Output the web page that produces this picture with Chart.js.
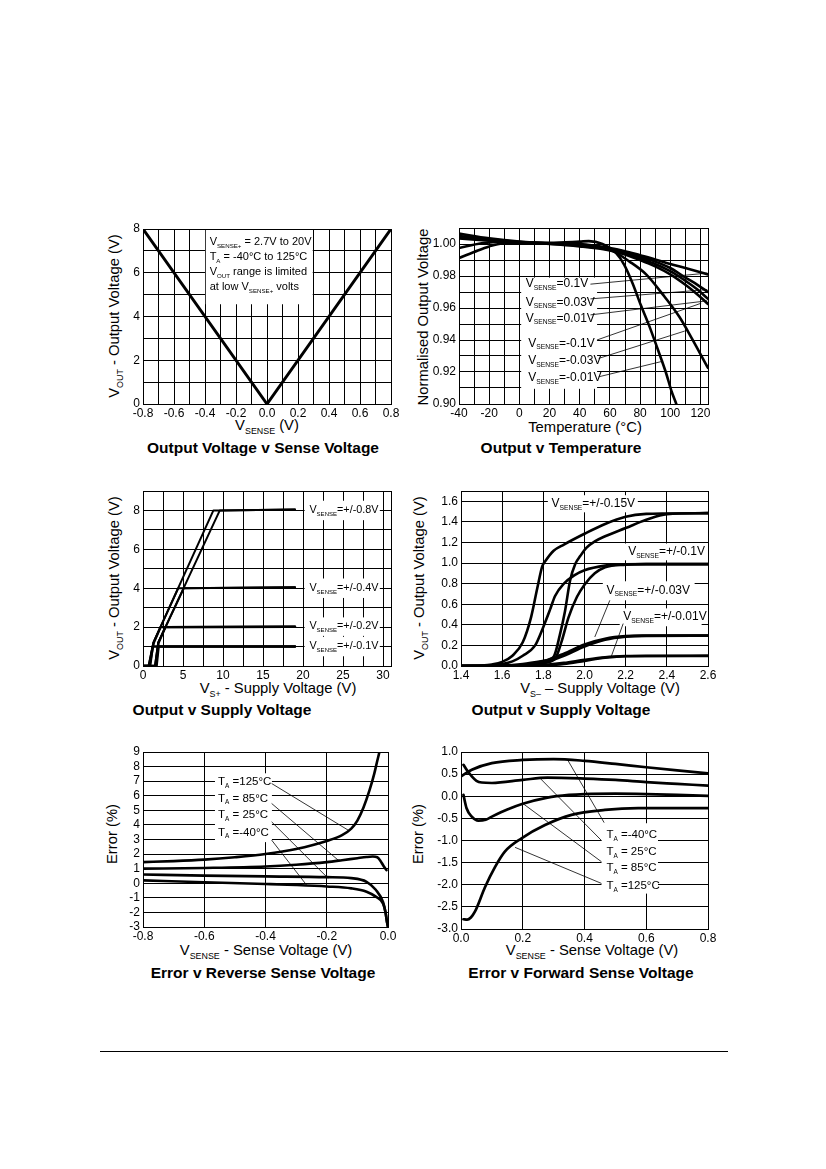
<!DOCTYPE html>
<html><head><meta charset="utf-8">
<script src="https://cdn.jsdelivr.net/npm/chart.js@4.4.1/dist/chart.umd.min.js"></script>
<style>
html,body{margin:0;padding:0;background:#fff;}
body{width:826px;height:1169px;position:relative;overflow:hidden;font-family:"Liberation Sans",Arial,Helvetica,sans-serif;color:#000;}
canvas{position:absolute;}
.t{position:absolute;white-space:nowrap;transform:translate(-50%,-50%);line-height:1;}
.ax{font-size:14.8px;}
.ttl{font-size:15.5px;font-weight:bold;}
.rot{transform:translate(-50%,-50%) rotate(-90deg);}
.s{font-size:0.6em;position:relative;top:0.42em;}
.foot{position:absolute;left:100px;top:1051px;width:628px;height:1px;background:#000;}
</style></head><body>

<div class="t ax rot" style="left:114px;top:316px">V<span class="s">OUT</span> - Output Voltage (V)</div>
<div class="t ax" style="left:267px;top:425px">V<span class="s">SENSE</span> (V)</div>
<div class="t ttl" style="left:263px;top:448px">Output Voltage v Sense Voltage</div>

<div class="t ax rot" style="left:423px;top:317px">Normalised Output Voltage</div>
<div class="t ax" style="left:585px;top:427px">Temperature (°C)</div>
<div class="t ttl" style="left:561px;top:448px">Output v Temperature</div>

<div class="t ax rot" style="left:114px;top:578px">V<span class="s">OUT</span> - Output Voltage (V)</div>
<div class="t ax" style="left:278px;top:688px">V<span class="s">S+</span> - Supply Voltage (V)</div>
<div class="t ttl" style="left:222px;top:710px">Output v Supply Voltage</div>

<div class="t ax rot" style="left:419px;top:578px">V<span class="s">OUT</span> - Output Voltage (V)</div>
<div class="t ax" style="left:600px;top:688px">V<span class="s">S–</span> – Supply Voltage (V)</div>
<div class="t ttl" style="left:561px;top:710px">Output v Supply Voltage</div>

<div class="t ax rot" style="left:112px;top:834px">Error (%)</div>
<div class="t ax" style="left:266px;top:950px">V<span class="s">SENSE</span> - Sense Voltage (V)</div>
<div class="t ttl" style="left:263px;top:973px">Error v Reverse Sense Voltage</div>

<div class="t ax rot" style="left:418px;top:834px">Error (%)</div>
<div class="t ax" style="left:592px;top:950px">V<span class="s">SENSE</span> - Sense Voltage (V)</div>
<div class="t ttl" style="left:581px;top:973px">Error v Forward Sense Voltage</div>

<div class="foot"></div>

<script>
// ================= DATA =================
// Chart 1: Output Voltage v Sense Voltage  [Vsense (V), Vout (V)]
const c1Curve = [[-0.8, 8.0], [0.0, 0.0], [0.8, 8.0]];

// Chart 2: Output v Temperature  [Temperature (°C), normalised output]
const c2Sense010 = [[-40,1.0065],[-20,1.0035],[0,1.0015],[20,1.0005],[40,1.0],[60,0.9975],[70,0.9955],[80,0.993],[88,0.991],[100,0.9875],[110,0.985],[125,0.981]];
const c2Sense003 = [[-40,1.005],[-20,1.003],[0,1.0012],[20,1.0004],[40,0.9995],[60,0.997],[70,0.995],[80,0.992],[90,0.989],[100,0.985],[110,0.979],[118,0.9745],[125,0.970]];
const c2Sense001 = [[-40,1.004],[-20,1.0025],[0,1.001],[20,1.0002],[40,0.999],[60,0.9965],[70,0.9945],[80,0.991],[90,0.9875],[100,0.983],[110,0.977],[118,0.9715],[125,0.9657]];
const c2SenseM010 = [[-40,1.0035],[-20,1.002],[0,1.0008],[20,1.0],[40,0.9985],[60,0.996],[70,0.9935],[80,0.990],[90,0.986],[100,0.981],[110,0.9745],[118,0.9685],[125,0.9625]];
const c2SenseM003 = [[-40,0.9912],[-30,0.995],[-20,0.9985],[-10,1.0005],[0,1.0005],[20,1.0002],[40,0.9995],[50,0.998],[60,0.9965],[73,0.989],[84,0.981],[95,0.9685],[106,0.9545],[114,0.9415],[125,0.9225]];
const c2SenseM001 = [[-40,0.9975],[-25,1.0005],[-10,1.0015],[0,1.0012],[20,1.0008],[40,1.0015],[46,1.0018],[55,1.0],[64,0.9944],[69.5,0.987],[75,0.9755],[80.4,0.962],[86,0.949],[91.4,0.935],[97,0.920],[101,0.9075],[104,0.900],[106,0.894]];

// Chart 3: Output v Supply Voltage (VS+)  [VS+ (V), Vout (V)]
const c3P08 = [[0,0],[0.7,0],[1.3,1.2],[8.8,8.0],[9.6,8.0],[19,8.05]];
const c3N08 = [[0,0],[1.5,0],[1.9,1.2],[9.6,8.0],[19,8.05]];
const c3P04 = [[0,0],[0.7,0],[1.3,1.2],[4.4,4.0],[19,4.05]];
const c3N04 = [[0,0],[1.5,0],[1.9,1.2],[5.1,4.0],[19,4.05]];
const c3P02 = [[0,0],[0.8,0],[1.35,1.2],[2.2,2.0],[19,2.02]];
const c3N02 = [[0,0],[1.6,0],[1.95,1.2],[2.8,2.0],[19,2.02]];
const c3P01 = [[0,0],[0.9,0],[1.2,1.0],[19,1.0]];
const c3N01 = [[0,0],[1.7,0],[1.95,1.0],[19,1.0]];

// Chart 4: Output v Supply Voltage (VS-)  [VS- (V), Vout (V)]
const c4S015a = [[1.4,0],[1.5,0.005],[1.55,0.015],[1.6,0.04],[1.65,0.1],[1.7,0.23],[1.74,0.47],[1.77,0.75],[1.795,0.97],[1.81,1.02],[1.85,1.12],[1.9,1.18],[2.0,1.285],[2.1,1.38],[2.2,1.45],[2.3,1.478],[2.4,1.482],[2.6,1.485]];
const c4S015b = [[1.4,0],[1.6,0.005],[1.7,0.02],[1.8,0.05],[1.85,0.09],[1.88,0.3],[1.905,0.53],[1.93,0.83],[1.955,0.99],[1.98,1.07],[2.01,1.15],[2.05,1.21],[2.1,1.26],[2.2,1.34],[2.3,1.42],[2.4,1.475],[2.6,1.485]];
const c4S010a = [[1.4,0],[1.5,0.003],[1.6,0.02],[1.65,0.045],[1.7,0.1],[1.76,0.2],[1.8,0.38],[1.833,0.55],[1.857,0.68],[1.9,0.8],[1.95,0.88],[2.0,0.93],[2.1,0.975],[2.2,0.988],[2.3,0.99],[2.6,0.99]];
const c4S010b = [[1.4,0],[1.6,0.003],[1.7,0.01],[1.8,0.03],[1.857,0.07],[1.889,0.24],[1.922,0.47],[1.963,0.67],[2.0,0.79],[2.05,0.9],[2.1,0.96],[2.2,0.985],[2.3,0.99],[2.6,0.99]];
const c4S003a = [[1.4,0],[1.6,0.003],[1.7,0.01],[1.8,0.045],[1.9,0.12],[2.0,0.21],[2.1,0.265],[2.2,0.29],[2.3,0.295],[2.6,0.297]];
const c4S003b = [[1.4,0],[1.7,0.005],[1.8,0.03],[1.9,0.1],[2.0,0.19],[2.1,0.255],[2.2,0.285],[2.3,0.293],[2.6,0.295]];
const c4S001a = [[1.4,0],[1.7,0.003],[1.8,0.01],[1.9,0.03],[2.0,0.06],[2.1,0.085],[2.2,0.097],[2.3,0.1],[2.6,0.1]];
const c4S001b = [[1.4,0],[1.8,0.005],[1.9,0.02],[2.0,0.05],[2.1,0.08],[2.2,0.095],[2.6,0.098]];

// Chart 5: Error v Reverse Sense Voltage  [Vsense (V), error (%)]
const c5T125 = [[-0.8,1.45],[-0.7,1.52],[-0.6,1.62],[-0.5,1.78],[-0.4,2.0],[-0.3,2.35],[-0.2,2.9],[-0.15,3.3],[-0.12,3.75],[-0.1,4.3],[-0.08,5.2],[-0.06,6.4],[-0.045,7.5],[-0.035,8.4],[-0.028,9.0],[-0.022,9.6]];
const c5T85 = [[-0.8,1.0],[-0.6,1.05],[-0.4,1.15],[-0.3,1.27],[-0.2,1.45],[-0.15,1.58],[-0.1,1.72],[-0.07,1.8],[-0.05,1.83],[-0.035,1.78],[-0.025,1.55],[-0.015,1.2],[-0.005,0.9]];
const c5T25 = [[-0.8,0.6],[-0.6,0.52],[-0.4,0.47],[-0.2,0.42],[-0.12,0.35],[-0.07,0.1],[-0.04,-0.45],[-0.016,-1.3],[-0.008,-2.0],[-0.003,-2.7],[0,-3.0]];
const c5TM40 = [[-0.8,0.2],[-0.6,0.07],[-0.4,-0.05],[-0.3,-0.12],[-0.2,-0.22],[-0.12,-0.35],[-0.07,-0.58],[-0.04,-0.92],[-0.016,-1.4],[-0.008,-2.0],[-0.003,-2.7],[0,-3.0]];

// Chart 6: Error v Forward Sense Voltage  [Vsense (V), error (%)]
const c6TM40 = [[0.003,0.46],[0.035,0.6],[0.1,0.75],[0.2,0.82],[0.3,0.84],[0.4,0.8],[0.5,0.73],[0.6,0.655],[0.7,0.585],[0.8,0.52]];
const c6T25 = [[0.008,0.71],[0.02,0.58],[0.035,0.45],[0.05,0.35],[0.067,0.31],[0.1,0.3],[0.2,0.37],[0.28,0.42],[0.4,0.4],[0.5,0.37],[0.6,0.32],[0.7,0.28],[0.8,0.24]];
const c6T85 = [[0.008,0.03],[0.018,-0.27],[0.035,-0.46],[0.056,-0.55],[0.08,-0.53],[0.1,-0.46],[0.15,-0.3],[0.2,-0.17],[0.28,-0.03],[0.35,0.03],[0.4,0.05],[0.5,0.06],[0.6,0.05],[0.7,0.03],[0.8,0.01]];
const c6T125 = [[0.008,-2.78],[0.02,-2.79],[0.032,-2.74],[0.045,-2.61],[0.078,-2.05],[0.11,-1.6],[0.142,-1.25],[0.196,-0.95],[0.272,-0.65],[0.358,-0.42],[0.466,-0.31],[0.574,-0.27],[0.8,-0.27]];

// Annotation texts
const c1Notes = ['V_{SENSE+} = 2.7V to 20V', 'T_{A} = -40°C to 125°C', 'V_{OUT} range is limited', 'at low V_{SENSE+} volts'];
const c2Notes = ['V_{SENSE}=0.1V', 'V_{SENSE}=0.03V', 'V_{SENSE}=0.01V', 'V_{SENSE}=-0.1V', 'V_{SENSE}=-0.03V', 'V_{SENSE}=-0.01V'];
const c3Notes = ['V_{SENSE}=+/-0.8V', 'V_{SENSE}=+/-0.4V', 'V_{SENSE}=+/-0.2V', 'V_{SENSE}=+/-0.1V'];
const c4Notes = ['V_{SENSE}=+/-0.15V', 'V_{SENSE}=+/-0.1V', 'V_{SENSE}=+/-0.03V', 'V_{SENSE}=+/-0.01V'];
const c5Notes = ['T_{A} =125°C', 'T_{A} = 85°C', 'T_{A} = 25°C', 'T_{A} =-40°C'];
const c6Notes = ['T_{A} =-40°C', 'T_{A} = 25°C', 'T_{A} = 85°C', 'T_{A} =125°C'];

// ================= RENDERING =================
const FONT = '"Liberation Sans", Arial, Helvetica, sans-serif';

function toXY(pairs){ return pairs.map(p => ({x: p[0], y: p[1]})); }
function line(pairs, w, smooth){
  return {data: toXY(pairs), borderColor: '#000', backgroundColor: '#000', borderWidth: w,
    pointRadius: 0, pointHoverRadius: 0, fill: false, tension: 0,
    cubicInterpolationMode: smooth ? 'monotone' : 'default',
    borderJoinStyle: 'round', borderCapStyle: 'round'};
}
function richParts(s){
  const out = []; const re = /_\{([^}]*)\}/g; let last = 0, m;
  while ((m = re.exec(s))) { if (m.index > last) out.push([s.slice(last, m.index), 0]); out.push([m[1], 1]); last = re.lastIndex; }
  if (last < s.length) out.push([s.slice(last), 0]);
  return out;
}
function drawRich(ctx, x, y, s, size){
  let cx = x;
  ctx.textBaseline = 'middle'; ctx.textAlign = 'left'; ctx.fillStyle = '#000';
  richParts(s).forEach(([t, sub]) => {
    const fs = sub ? size * 0.56 : size;
    ctx.font = fs + 'px ' + FONT;
    ctx.fillText(t, cx, sub ? y + size * 0.36 : y);
    cx += ctx.measureText(t).width;
  });
}

const decoPlugin = {
  id: 'deco',
  beforeDatasetsDraw(chart, args, o){
    const {ctx, chartArea: a} = chart; const X = chart.scales.x, Y = chart.scales.y;
    ctx.save();
    ctx.fillStyle = '#fff';
    (o.boxes || []).forEach(b => {
      const x1 = X.getPixelForValue(b[0]), x2 = X.getPixelForValue(b[1]);
      const y1 = Y.getPixelForValue(b[2]), y2 = Y.getPixelForValue(b[3]);
      ctx.fillRect(Math.min(x1, x2), Math.min(y1, y2), Math.abs(x2 - x1), Math.abs(y2 - y1));
    });
    ctx.strokeStyle = '#000'; ctx.lineWidth = 1;
    ctx.strokeRect(a.left + 0.5, a.top + 0.5, a.right - a.left, a.bottom - a.top);
    ctx.restore();
  },
  afterDatasetsDraw(chart, args, o){
    const {ctx} = chart; const X = chart.scales.x, Y = chart.scales.y;
    ctx.save();
    ctx.strokeStyle = '#000'; ctx.lineWidth = 0.8;
    (o.leaders || []).forEach(l => {
      ctx.beginPath();
      ctx.moveTo(X.getPixelForValue(l[0]), Y.getPixelForValue(l[1]));
      ctx.lineTo(X.getPixelForValue(l[2]), Y.getPixelForValue(l[3]));
      ctx.stroke();
    });
    (o.labels || []).forEach((l, i) => {
      drawRich(ctx, X.getPixelForValue(l[0]), Y.getPixelForValue(l[1]), o.texts[i], o.size);
    });
    ctx.restore();
  }
};

function axis(min, max, step, cb, isY){
  return {type: 'linear', min: min, max: max,
    ticks: {stepSize: step, includeBounds: false, autoSkip: false, maxRotation: 0, minRotation: 0,
      padding: isY ? 3 : 2, color: '#000', font: {family: FONT, size: 12}, callback: cb},
    grid: {color: '#000', lineWidth: 1, drawTicks: false},
    border: {display: true, color: '#000', width: 1},
    afterFit: isY ? (s => { s.width = 40; }) : (s => { s.height = 18; })
  };
}

function makeChart(g, xAx, yAx, datasets, deco){
  const c = document.createElement('canvas');
  const w = g.R - g.L + 67, h = g.B - g.T + 32;
  c.width = w; c.height = h;
  c.style.left = (g.L - 45) + 'px'; c.style.top = (g.T - 12) + 'px';
  c.style.width = w + 'px'; c.style.height = h + 'px';
  document.body.appendChild(c);
  new Chart(c, {type: 'line', data: {datasets: datasets},
    options: {responsive: false, maintainAspectRatio: false, animation: false, events: [],
      layout: {padding: {left: 5, top: 12, right: 22, bottom: 2}},
      plugins: {legend: {display: false}, tooltip: {enabled: false}, deco: deco},
      scales: {x: xAx, y: yAx}},
    plugins: [decoPlugin]});
}

const even10 = v => (Math.round(v * 10) % 2 === 0 ? v.toFixed(1) : '');
const fix1 = v => v.toFixed(1);

// Chart 1
makeChart({L:143, T:229, R:391, B:404},
  axis(-0.8, 0.8, 0.1, even10, false),
  axis(0, 8, 1, v => (v % 2 === 0 ? String(v) : ''), true),
  [line(c1Curve, 3, false)],
  {boxes: [[-0.395, 0.295, 8, 4.56]], texts: c1Notes, size: 11,
   labels: [[-0.37, 7.4], [-0.37, 6.71], [-0.37, 6.03], [-0.37, 5.34]]});

// Chart 2
makeChart({L:459, T:228, R:708, B:404},
  axis(-40, 125, 10, v => (v % 20 === 0 ? String(v) : ''), false),
  axis(0.90, 1.01, 0.01, v => (Math.round(v * 100) % 2 === 0 ? v.toFixed(2) : ''), true),
  [line(c2Sense010, 2.6, true), line(c2Sense003, 2.6, true), line(c2Sense001, 2.6, true),
   line(c2SenseM010, 2.6, true), line(c2SenseM003, 2.6, true), line(c2SenseM001, 2.6, true)],
  {boxes: [[1.2, 51.5, 0.979, 0.9095]], texts: c2Notes, size: 12,
   labels: [[4.2, 0.9754], [4.2, 0.9636], [4.2, 0.9536], [5.9, 0.938], [5.9, 0.9271], [5.9, 0.9164]],
   leaders: [[47.1, 0.9749, 124.5, 0.9818], [47.1, 0.9657, 124.5, 0.9715], [47.1, 0.9557, 124.5, 0.9645],
             [51.4, 0.940, 120.5, 0.963], [52.6, 0.9285, 109.6, 0.9456], [52.6, 0.917, 95.3, 0.9268]]});

// Chart 3
makeChart({L:143, T:491, R:391, B:666},
  axis(0, 31, 2.5, v => (v % 5 === 0 ? String(v) : ''), false),
  axis(0, 9, 1, v => (v % 2 === 0 ? String(v) : ''), true),
  [line(c3P08, 2, false), line(c3N08, 2, false), line(c3P04, 2, false), line(c3N04, 2, false),
   line(c3P02, 2.4, false), line(c3N02, 2.4, false), line(c3P01, 2.4, false), line(c3N01, 2.4, false)],
  {boxes: [[20.2, 29.6, 8.5, 7.5], [20.2, 29.6, 4.5, 3.5], [20.2, 29.6, 2.5, 1.55], [20.2, 29.6, 1.5, 0.5]],
   texts: c3Notes, size: 10.8,
   labels: [[20.8, 8.0], [20.8, 4.01], [20.8, 2.04], [20.8, 1.01]]});

// Chart 4
makeChart({L:461, T:491, R:708, B:666},
  axis(1.4, 2.6, 0.2, fix1, false),
  axis(0, 1.7, 0.2, fix1, true),
  [line(c4S015a, 2.6, true), line(c4S015b, 2.6, true), line(c4S010a, 2.6, true), line(c4S010b, 2.6, true),
   line(c4S003a, 2.6, true), line(c4S003b, 2.6, true), line(c4S001a, 2.6, true), line(c4S001b, 2.6, true)],
  {boxes: [[1.822, 2.259, 1.659, 1.493], [2.196, 2.57, 1.19, 1.027], [2.089, 2.535, 0.823, 0.638], [2.171, 2.569, 0.56, 0.386]],
   texts: c4Notes, size: 12,
   labels: [[1.84, 1.578], [2.212, 1.108], [2.107, 0.736], [2.188, 0.476]],
   leaders: [[2.123, 0.638, 2.05, 0.282], [2.188, 0.412, 2.131, 0.097]]});

// Chart 5
makeChart({L:143, T:752, R:388, B:927},
  axis(-0.8, 0, 0.2, fix1, false),
  axis(-3, 9, 1, v => String(v), true),
  [line(c5T125, 2.6, true), line(c5T85, 2.6, true), line(c5T25, 2.6, true), line(c5TM40, 2.6, true)],
  {boxes: [[-0.565, -0.379, 7.54, 2.82]], texts: c5Notes, size: 11.5,
   labels: [[-0.555, 6.95], [-0.555, 5.81], [-0.555, 4.67], [-0.555, 3.48]],
   leaders: [[-0.380, 6.84, -0.130, 3.64], [-0.380, 5.47, -0.163, 1.59], [-0.380, 4.21, -0.195, 0.33], [-0.380, 2.96, -0.266, -0.12]]});

// Chart 6
makeChart({L:461, T:752, R:708, B:929},
  axis(0, 0.8, 0.2, fix1, false),
  axis(-3, 1, 0.5, fix1, true),
  [line(c6TM40, 2.7, true), line(c6T25, 2.7, true), line(c6T85, 2.7, true), line(c6T125, 2.7, true)],
  {boxes: [[0.455, 0.638, -0.61, -2.2]], texts: c6Notes, size: 11.5,
   labels: [[0.471, -0.875], [0.471, -1.254], [0.471, -1.617], [0.471, -2.03]],
   leaders: [[0.4636, -0.596, 0.345, 0.825], [0.455, -1.0, 0.2556, 0.41], [0.455, -1.48, 0.2016, -0.17], [0.455, -1.97, 0.175, -1.155]]});
</script>
</body></html>
